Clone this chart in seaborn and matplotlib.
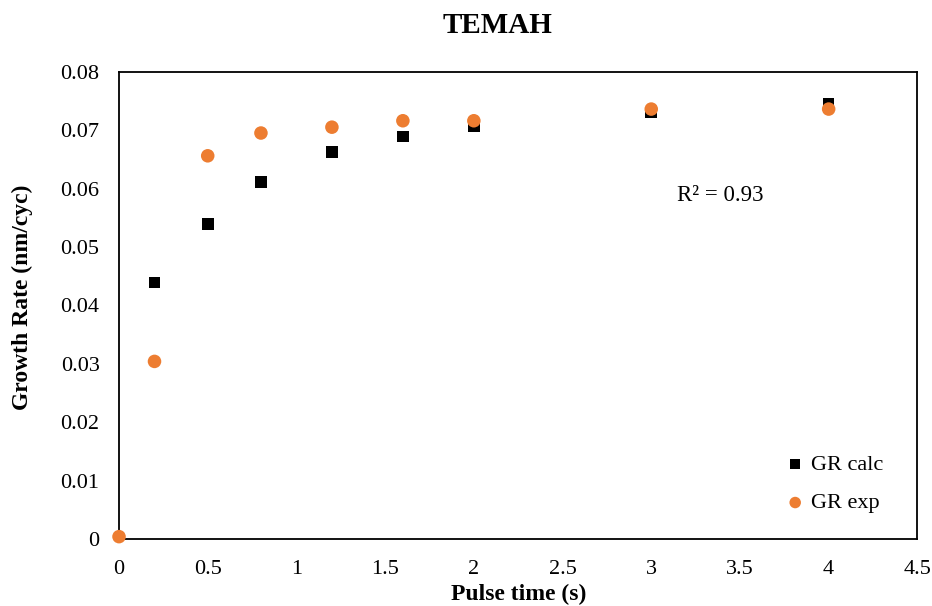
import matplotlib
matplotlib.use("Agg")
import matplotlib.pyplot as plt
import seaborn as sns
import pandas as pd

pulse_calc = [0.2, 0.5, 0.8, 1.2, 1.6, 2.0, 3.0, 4.0]
gr_calc = [0.0439, 0.0539, 0.0611, 0.0662, 0.0689, 0.0706, 0.0730, 0.0745]
pulse_exp = [0.0, 0.2, 0.5, 0.8, 1.2, 1.6, 2.0, 3.0, 4.0]
gr_exp = [0.0004, 0.0304, 0.0656, 0.0695, 0.0705, 0.0716, 0.0716, 0.0736, 0.0736]
x_ticks = [0, 0.5, 1, 1.5, 2, 2.5, 3, 3.5, 4, 4.5]
y_ticks = [0, 0.01, 0.02, 0.03, 0.04, 0.05, 0.06, 0.07, 0.08]

sns.set_theme(style="white")
plt.rcParams["font.family"] = ["Liberation Serif", "DejaVu Serif"]
plt.rcParams["text.color"] = "black"
plt.rcParams["axes.labelcolor"] = "black"

df_calc = pd.DataFrame({"Pulse time (s)": pulse_calc, "GR": gr_calc})
df_exp = pd.DataFrame({"Pulse time (s)": pulse_exp, "GR": gr_exp})

fig = plt.figure(figsize=(9.32, 6.06), dpi=100)
ax = fig.add_axes([0.1277, 0.1106, 0.8566, 0.7711])

sns.scatterplot(data=df_calc, x="Pulse time (s)", y="GR", marker="s", s=70,
                color="black", edgecolor="none", label="GR calc", ax=ax,
                zorder=3, clip_on=False)
sns.scatterplot(data=df_exp, x="Pulse time (s)", y="GR", marker="o", s=95,
                color="#ED7D31", edgecolor="none", label="GR exp", ax=ax,
                zorder=4, clip_on=False)

ax.set_xlim(0, 4.5)
ax.set_ylim(0, 0.08)
ax.set_xticks(x_ticks)
ax.set_xticklabels([f"{t:g}" for t in x_ticks])
ax.set_yticks(y_ticks)
ax.set_yticklabels([f"{t:g}" for t in y_ticks])
ax.tick_params(axis="x", labelsize=16, length=0, pad=15, colors="black")
ax.tick_params(axis="y", labelsize=16, length=0, pad=14, colors="black")
for sp in ax.spines.values():
    sp.set_color("black")
    sp.set_linewidth(1.3)

ax.set_xlabel("Pulse time (s)", fontsize=17, fontweight="bold", labelpad=4)
ax.set_ylabel("Growth Rate (nm/cyc)", fontsize=17, fontweight="bold")
ax.yaxis.set_label_coords(-0.108, 0.517)
fig.text(0.534, 0.958, "TEMAH", fontsize=21, fontweight="bold",
         ha="center", va="center")

ax.text(0.699, 0.735, "R\u00b2 = 0.93", transform=ax.transAxes, fontsize=16.5,
        ha="left", va="center")

leg = ax.legend(loc="lower right", bbox_to_anchor=(0.982, 0.012), frameon=False,
                fontsize=16, handletextpad=-0.3, labelspacing=0.8,
                markerscale=0.85)

fig.savefig("out.png", dpi=100)
